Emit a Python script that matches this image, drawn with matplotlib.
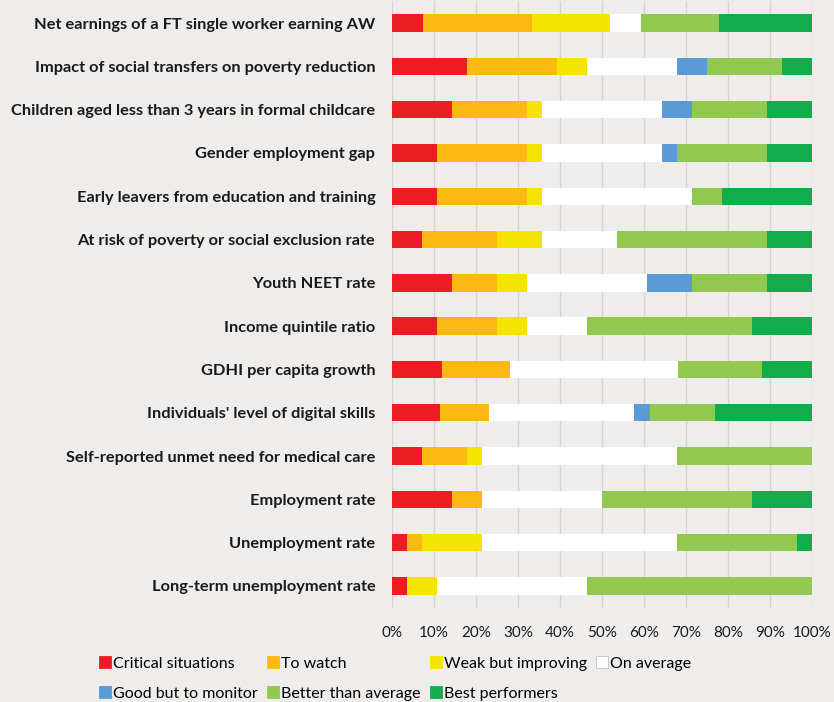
import numpy as np
import matplotlib.pyplot as plt
from matplotlib.patches import Patch

# Number of member states in each performance group, per indicator
indicators = ['Net earnings of a FT single worker earning AW',
              'Impact of social transfers on poverty reduction',
              'Children aged less than 3 years in formal childcare',
              'Gender employment gap',
              'Early leavers from education and training',
              'At risk of poverty or social exclusion rate',
              'Youth NEET rate',
              'Income quintile ratio',
              'GDHI per capita growth',
              "Individuals' level of digital skills",
              'Self-reported unmet need for medical care',
              'Employment rate',
              'Unemployment rate',
              'Long-term unemployment rate']

groups = ['Critical situations', 'To watch', 'Weak but improving',
          'On average', 'Good but to monitor', 'Better than average',
          'Best performers']

critical = [2, 5, 4, 3, 3, 2, 4, 3, 3, 3, 2, 4, 1, 1]
to_watch = [7, 6, 5, 6, 6, 5, 3, 4, 4, 3, 3, 2, 1, 0]
weak_improving = [5, 2, 1, 1, 1, 3, 2, 2, 0, 0, 1, 0, 4, 2]
on_average = [2, 6, 8, 8, 10, 5, 8, 4, 10, 9, 13, 8, 13, 10]
good_monitor = [0, 2, 2, 1, 0, 0, 3, 0, 0, 1, 0, 0, 0, 0]
better_average = [5, 5, 5, 6, 2, 10, 5, 11, 5, 4, 9, 10, 8, 15]
best_performers = [6, 2, 3, 3, 6, 3, 3, 4, 3, 6, 0, 4, 1, 0]

colors = ['#ED1C24', '#FDB913', '#F4E400', '#FFFFFF',
          '#5B9BD5', '#92C84F', '#12AD4B']

tick_labels = ['0%', '10%', '20%', '30%', '40%', '50%', '60%',
               '70%', '80%', '90%', '100%']

bg = '#EFEDEB'
plt.rcParams['font.family'] = ['Lato', 'DejaVu Sans']

counts = np.array([critical, to_watch, weak_improving, on_average,
                   good_monitor, better_average, best_performers], dtype=float)
shares = counts / counts.sum(axis=0) * 100

fig = plt.figure(figsize=(8.34, 7.02), dpi=100, facecolor=bg)
ax = fig.add_axes([392 / 834, 94.4 / 702, 420 / 834, 606.2 / 702])
ax.set_facecolor(bg)

y = np.arange(len(indicators))
left = np.zeros(len(indicators))
for share, color in zip(shares, colors):
    ax.barh(y, share, left=left, height=0.4, color=color, zorder=3)
    left += share

ax.set_xlim(0, 100)
ax.set_ylim(len(indicators) - 0.5, -0.5)
ax.set_yticks(y)
ax.set_yticklabels(indicators, fontsize=11.75, fontweight='bold',
                   color='#1a1a1a')
ax.set_xticks(np.arange(0, 101, 10))
ax.set_xticklabels(tick_labels, fontsize=11, color='#1a1a1a')
ax.tick_params(axis='y', length=0, pad=12)
ax.tick_params(axis='x', length=0, pad=13)
ax.grid(axis='x', color='#D6D4D2', linewidth=1, zorder=0)
for s in ax.spines.values():
    s.set_visible(False)

handles = [Patch(facecolor=c, edgecolor='#BFBFBF' if c == '#FFFFFF' else c,
                 linewidth=0.6) for c in colors]
# column-major order so the legend reads row by row
order = [0, 4, 1, 5, 2, 6, 3]
fig.legend([handles[i] for i in order], [groups[i] for i in order],
           loc='upper left', bbox_to_anchor=(99 / 834, 1 - 656 / 702),
           ncol=4, frameon=False, fontsize=11.5, handlelength=0.75,
           handleheight=0.77, handletextpad=0.15, columnspacing=0.55,
           labelspacing=1.0, borderpad=0, borderaxespad=0)

fig.savefig('out.png', dpi=100, facecolor=bg)
